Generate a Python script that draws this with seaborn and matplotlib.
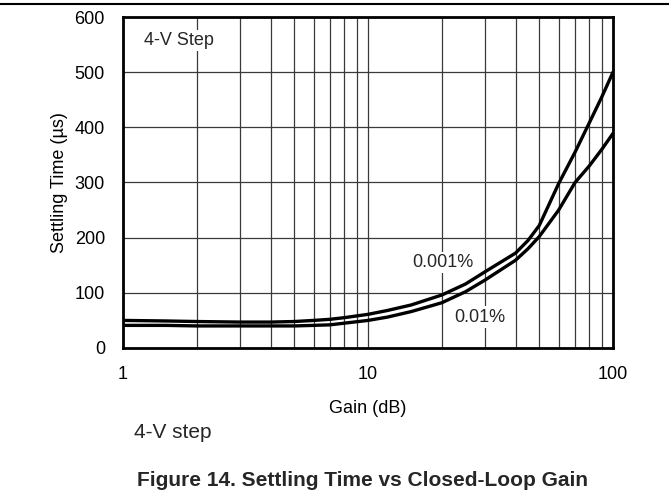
import matplotlib
matplotlib.use("Agg")
import matplotlib.pyplot as plt
from matplotlib.ticker import LogLocator, FixedLocator, NullFormatter, FixedFormatter
import numpy as np
import pandas as pd
import seaborn as sns

# Closed-loop gain sweep and settling times for the two accuracy bands
gain = [1, 1.5, 2, 3, 4, 5, 6, 7, 8, 10, 12, 15, 20, 25, 30, 40, 45, 50, 60, 70, 80, 90, 100]
settle_0p001 = [50, 49, 48, 47, 47, 48, 50, 52, 55, 61, 68, 78, 96, 116, 138, 172, 195, 222, 298, 355, 408, 455, 500]
settle_0p01 = [41, 41, 40, 40, 40, 40, 41, 42, 45, 50, 56, 66, 82, 102, 123, 159, 180, 202, 250, 300, 330, 360, 389]

x_ticks = [1, 10, 100]
x_tick_labels = ["1", "10", "100"]
y_ticks = [0, 100, 200, 300, 400, 500, 600]

df = pd.concat([
    pd.DataFrame({"gain": gain, "time": settle_0p001, "band": "0.001%"}),
    pd.DataFrame({"gain": gain, "time": settle_0p01, "band": "0.01%"}),
])

sns.set_theme(style="white")
plt.rcParams["font.family"] = ["Liberation Sans", "DejaVu Sans"]

fig = plt.figure(figsize=(6.69, 4.97), dpi=100)
ax = fig.add_axes([123 / 669, 1 - 348 / 497, 490 / 669, 331 / 497])

sns.lineplot(data=df, x="gain", y="time", hue="band", palette=["black", "black"],
             linewidth=2.4, legend=False, ax=ax, zorder=3)

ax.set_xscale("log")
ax.set_xlim(1, 100)
ax.set_ylim(0, 600)
ax.xaxis.set_major_locator(FixedLocator(x_ticks))
ax.xaxis.set_major_formatter(FixedFormatter(x_tick_labels))
ax.xaxis.set_minor_locator(LogLocator(base=10, subs=np.arange(2, 10)))
ax.xaxis.set_minor_formatter(NullFormatter())
ax.set_yticks(y_ticks)

ax.grid(True, which="both", axis="x", color="#3a3a3a", linewidth=0.9)
ax.grid(True, which="major", axis="y", color="#3a3a3a", linewidth=0.9)
ax.set_axisbelow(True)

for s in ax.spines.values():
    s.set_visible(True)
    s.set_color("black")
    s.set_linewidth(2.0)
    s.set_zorder(5)

ax.tick_params(axis="both", which="both", length=0, labelsize=13, colors="black")
ax.tick_params(axis="y", pad=13)
ax.tick_params(axis="x", pad=13)

ax.set_xlabel("Gain (dB)", fontsize=13, color="black")
ax.set_ylabel("Settling Time (µs)", fontsize=13, color="black")
ax.xaxis.set_label_coords(0.5, -0.158)
ax.yaxis.set_label_coords(-0.112, 0.5)

box = dict(facecolor="white", edgecolor="none", pad=1.5)
ax.text(1.22, 557, "4-V Step", fontsize=13, ha="left", va="center", bbox=box, zorder=4)
ax.text(20.2, 155, "0.001%", fontsize=13, ha="center", va="center", bbox=box, zorder=4)
ax.text(28.7, 56, "0.01%", fontsize=13, ha="center", va="center", bbox=box, zorder=4)

# Rule across the top of the page and the text beneath the chart
fig.add_artist(plt.Line2D([0, 1], [1 - 4 / 497, 1 - 4 / 497], color="black", linewidth=1.5,
                          transform=fig.transFigure))
fig.text(134 / 669, 1 - 433 / 497, "4-V step", fontsize=15, ha="left", va="center")
fig.text(362 / 669, 1 - 481 / 497, "Figure 14. Settling Time vs Closed-Loop Gain",
         fontsize=15, fontweight="bold", ha="center", va="center")

fig.savefig("out.png", dpi=100)
